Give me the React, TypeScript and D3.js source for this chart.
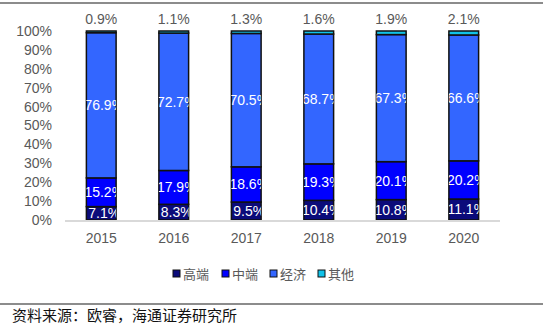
import React from "react";
import * as d3 from "d3";

const years = ["2015", "2016", "2017", "2018", "2019", "2020"];
const seriesNames = ["高端", "中端", "经济", "其他"];
const high = [7.1, 8.3, 9.5, 10.4, 10.8, 11.1];
const mid = [15.2, 17.9, 18.6, 19.3, 20.1, 20.2];
const eco = [76.9, 72.7, 70.5, 68.7, 67.3, 66.6];
const other = [0.9, 1.1, 1.3, 1.6, 1.9, 2.1];
const yTicks = [0, 10, 20, 30, 40, 50, 60, 70, 80, 90, 100];
const colors = ["#0b0b7a", "#0000ff", "#3366ff", "#11c2e8"];

const W = 548;
const H = 325;

export default function App() {
  const x = d3.scaleBand<string>().domain(years).range([65, 500]).paddingInner(0.59).paddingOuter(0.295);
  const y = d3.scaleLinear().domain([0, 100]).range([220, 31]);
  const seriesVals = [high, mid, eco, other];
  const rows = years.map((yr, i) => {
    const obj: any = { year: yr };
    const total = seriesVals.reduce((s, a) => s + a[i], 0);
    seriesNames.forEach((n, k) => (obj[n] = (seriesVals[k][i] / total) * 100));
    return obj;
  });
  const stack = d3.stack<any>().keys(seriesNames)(rows);
  const bw = x.bandwidth();
  const grey = "#595959";
  const font = "Liberation Sans, Arial, sans-serif";
  const legendX = [173, 222, 270, 318];

  return (
    <svg width={W} height={H} style={{ position: "absolute", left: 0, top: 0 }} fontFamily={font}>
      <rect width={W} height={H} fill="#fff" />
      <line x1={0} x2={543} y1={3} y2={3} stroke="#8c8c8c" strokeWidth={2} />
      <defs>
        {years.map((yr) => (
          <clipPath id={`clip-${yr}`} key={yr}>
            <rect x={x(yr)!} y={0} width={bw} height={H} />
          </clipPath>
        ))}
      </defs>
      {yTicks.map((t) => (
        <text key={t} x={52} y={y(t)} dy="0.35em" textAnchor="end" fontSize={14} fill={grey}>
          {t}%
        </text>
      ))}
      {stack.map((s, k) =>
        s.map((d, i) => (
          <rect
            key={`${k}-${i}`}
            x={x(years[i])!}
            y={y(d[1])}
            width={bw}
            height={y(d[0]) - y(d[1])}
            fill={colors[k]}
            stroke="#111"
            strokeWidth={1.5}
          />
        ))
      )}
      <line x1={65} x2={500} y1={221} y2={221} stroke="#d9d9d9" strokeWidth={2} />
      {stack.slice(0, 3).map((s, k) =>
        s.map((d, i) => (
          <text
            key={`l${k}-${i}`}
            x={x(years[i])! + bw / 2 + 3}
            y={y((d[0] + d[1]) / 2)}
            dy="0.35em"
            textAnchor="middle"
            fontSize={14}
            fill="#fff"
            clipPath={`url(#clip-${years[i]})`}
          >
            {seriesVals[k][i]}%
          </text>
        ))
      )}
      {years.map((yr, i) => (
        <text key={`t${yr}`} x={x(yr)! + bw / 2} y={19} dy="0.35em" textAnchor="middle" fontSize={14} fill={grey}>
          {other[i]}%
        </text>
      ))}
      {years.map((yr) => (
        <text key={`x${yr}`} x={x(yr)! + bw / 2} y={238} dy="0.35em" textAnchor="middle" fontSize={14} fill={grey}>
          {yr}
        </text>
      ))}
      {seriesNames.map((n, k) => (
        <g key={n}>
          <rect x={legendX[k]} y={270} width={7} height={7} fill={colors[k]} stroke="#111" strokeWidth={1} />
          <text x={legendX[k] + 10} y={274} dy="0.35em" fontSize={13} fill={grey} fontFamily="Noto Sans CJK SC">
            {n}
          </text>
        </g>
      ))}
      <line x1={0} x2={543} y1={304} y2={304} stroke="#8c8c8c" strokeWidth={2} />
      <text x={12} y={316} dy="0.35em" fontSize={15} fill="#111" fontFamily="Noto Sans CJK SC">
        资料来源：欧睿，海通证券研究所
      </text>
    </svg>
  );
}
